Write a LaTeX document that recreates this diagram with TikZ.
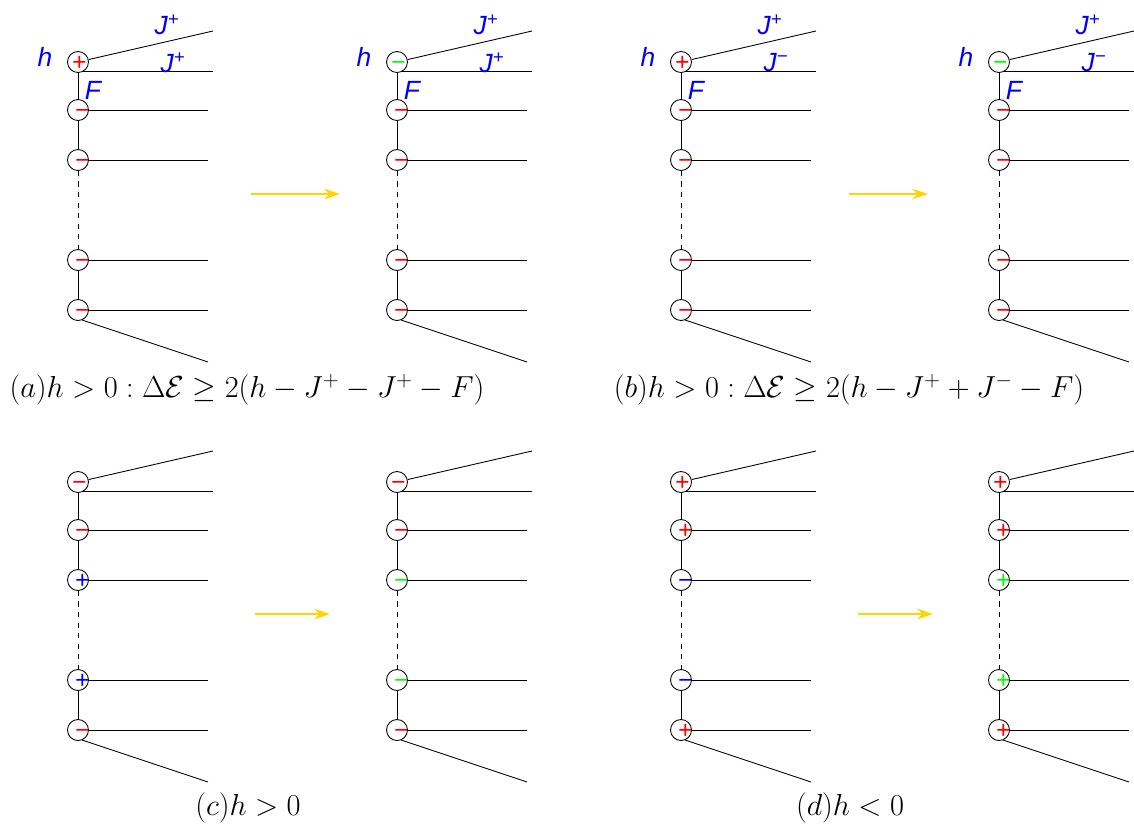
\documentclass[tikz,border=0pt]{standalone}
\usepackage{amsmath}
\usepackage{xcolor}
\usepackage{fontspec}
\setsansfont{Liberation Sans}
\usepackage{tikz}
\usetikzlibrary{arrows.meta}

\definecolor{arrowgold}{RGB}{255,212,0}

\begin{document}
\begin{tikzpicture}[x=0.02cm,y=-0.02cm,line width=0.5pt,
  spin/.style={circle,draw,fill=white,inner sep=0pt,minimum size=0.42cm},
  sgn/.style={font=\fontsize{14}{16}\sffamily\itshape,inner sep=0pt,anchor=base},
  lbl/.style={font=\fontsize{15}{17}\sffamily\itshape,text=blue,inner sep=0pt},
  movearrow/.style={arrowgold,line width=1.2pt,-{Stealth[length=9pt,width=6pt]}},
  captext/.style={font=\LARGE,inner sep=0pt}]
\useasboundingbox (0,0) rectangle (1134,826);

% the eight chains
\foreach \n/\cx/\cy/\signs in {
  aL/78/62/{+/red,−/red,−/red,−/red,−/red},
  aR/397/62/{−/green,−/red,−/red,−/red,−/red},
  bL/681/62/{+/red,−/red,−/red,−/red,−/red},
  bR/999/62/{−/green,−/red,−/red,−/red,−/red},
  cL/78/482/{−/red,−/red,+/blue,+/blue,−/red},
  cR/397/482/{−/red,−/red,−/green,−/green,−/red},
  dL/681/482/{+/red,+/red,−/blue,−/blue,+/red},
  dR/999/482/{+/red,+/red,+/green,+/green,+/red}}
{
  \coordinate (t-\n) at (\cx+135,\cy-31);
  \coordinate (b-\n) at (\cx+130,\cy+300);
  \foreach \s/\c [count=\k] in \signs {
    \pgfmathsetmacro\dy{{0,48,98,198,248}[\k-1]}
    \pgfmathsetmacro\dx{\k==1 ? 1 : 4}
    \node[spin] (c-\n-\k) at (\cx,\cy+\dy) {};
    \node[sgn,text=\c] (s-\n-\k) at (\cx+\dx,\cy+\dy+8) {\s};
    \ifnum\k>1
      \coordinate (e-\n-\k) at (\cx+130,\cy+\dy);
      \draw (c-\n-\k) -- (e-\n-\k);
    \fi
  }
  \draw (c-\n-1) -- (t-\n);
  \draw (c-\n-1.-64) -- (c-\n-1.-64 -| t-\n);
  \draw (c-\n-5.-67) -- (b-\n);
  \draw (c-\n-1) -- (c-\n-2) -- (c-\n-3);
  \draw[dashed] (c-\n-3) -- (c-\n-4);
  \draw (c-\n-4) -- (c-\n-5);
}

% couplings in the top row
\foreach \n/\j in {aL/+,aR/+,bL/−,bR/−} {
  \node[lbl] (h-\n) at ([shift={(-33,-5)}]c-\n-1) {h};
  \node[lbl] (jt-\n) at ([shift={(89,-37)}]c-\n-1) {J\textsuperscript{+}};
  \node[lbl] (jb-\n) at ([shift={(95,1)}]c-\n-1) {J\textsuperscript{\j}};
  \node[lbl] (f-\n) at ([shift={(15,28)}]c-\n-1) {F};
}

% flip arrows
\coordinate (aA) at (251,194); \coordinate (aB) at (340,194);
\coordinate (bA) at (849,194); \coordinate (bB) at (928,194);
\coordinate (cA) at (255,614); \coordinate (cB) at (330,614);
\coordinate (dA) at (858,614); \coordinate (dB) at (933,614);
\foreach \p in {a,b,c,d} \draw[movearrow] (\p A) -- (\p B);

\node[captext] (cap-a) at (247,390) {$(a) h > 0 : \Delta\mathcal{E} \geq 2(h - J^+ - J^+ - F)$};
\node[captext] (cap-b) at (849,390) {$(b) h > 0 : \Delta\mathcal{E} \geq 2(h - J^+ + J^- - F)$};
\node[captext] (cap-c) at (248,808) {$(c) h > 0$};
\node[captext] (cap-d) at (850,808) {$(d) h < 0$};
\end{tikzpicture}
\end{document}
